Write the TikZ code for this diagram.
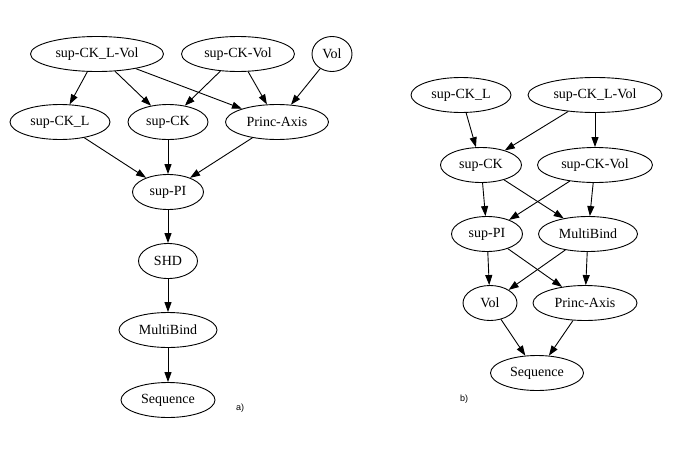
\documentclass[tikz,border=0pt]{standalone}
\usepackage{fontspec}
\setmainfont{Liberation Serif}
\newfontfamily\tagfont{Liberation Sans}
\usetikzlibrary{shapes.geometric,arrows.meta}

\begin{document}
\begin{tikzpicture}[x=1pt, y=-1pt,
    state/.style={draw, line width=0.9pt, ellipse, inner sep=0pt, minimum height=35pt,
        font=\fontsize{14}{16}\selectfont},
    edge/.style={line width=0.9pt, -{Triangle[length=10pt, width=7pt]}}]
\useasboundingbox (0,0) rectangle (685,466);

\node[state, minimum width=133pt] (aLVol) at (97, 54) {sup-CK\_L-Vol};
\node[state, minimum width=113pt] (aCKVol) at (238, 54) {sup-CK-Vol};
\node[state, minimum width=40pt] (aVol) at (332, 54) {Vol};
\node[state, minimum width=100pt] (aL) at (60, 122) {sup-CK\_L};
\node[state, minimum width=80pt] (aCK) at (168, 122) {sup-CK};
\node[state, minimum width=103pt] (aAxis) at (277, 122) {Princ-Axis};
\node[state, minimum width=71pt] (aPI) at (168, 192) {sup-PI};
\node[state, minimum width=59pt] (aSHD) at (168, 261) {SHD};
\node[state, minimum width=98pt] (aBind) at (168, 330) {MultiBind};
\node[state, minimum width=94pt] (aSeq) at (168, 400) {Sequence};
\node[font=\tagfont\fontsize{9}{10}\selectfont] (aTag) at (240, 408) {a)};

\draw[edge] (aLVol) -- (aL);
\draw[edge] (aLVol) -- (aCK);
\draw[edge] (aLVol) -- (aAxis);
\draw[edge] (aCKVol) -- (aCK);
\draw[edge] (aCKVol) -- (aAxis);
\draw[edge] (aVol) -- (aAxis);
\draw[edge] (aL) -- (aPI);
\draw[edge] (aCK) -- (aPI);
\draw[edge] (aAxis) -- (aPI);
\draw[edge] (aPI) -- (aSHD);
\draw[edge] (aSHD) -- (aBind);
\draw[edge] (aBind) -- (aSeq);

\node[state, minimum width=100pt] (bL) at (461, 95) {sup-CK\_L};
\node[state, minimum width=134pt] (bLVol) at (595, 95) {sup-CK\_L-Vol};
\node[state, minimum width=81pt] (bCK) at (481, 165) {sup-CK};
\node[state, minimum width=115pt] (bCKVol) at (595, 165) {sup-CK-Vol};
\node[state, minimum width=71pt] (bPI) at (487, 234) {sup-PI};
\node[state, minimum width=99pt] (bBind) at (588, 234) {MultiBind};
\node[state, minimum width=54pt] (bVol) at (490, 303) {Vol};
\node[state, minimum width=104pt] (bAxis) at (585, 303) {Princ-Axis};
\node[state, minimum width=93pt] (bSeq) at (537, 373) {Sequence};
\node[font=\tagfont\fontsize{9}{10}\selectfont] (bTag) at (464, 399) {b)};

\draw[edge] (bL) -- (bCK);
\draw[edge] (bLVol) -- (bCK);
\draw[edge] (bLVol) -- (bCKVol);
\draw[edge] (bCK) -- (bPI);
\draw[edge] (bCK) -- (bBind);
\draw[edge] (bCKVol) -- (bPI);
\draw[edge] (bCKVol) -- (bBind);
\draw[edge] (bPI) -- (bVol);
\draw[edge] (bPI) -- (bAxis);
\draw[edge] (bBind) -- (bVol);
\draw[edge] (bBind) -- (bAxis);
\draw[edge] (bVol) -- (bSeq);
\draw[edge] (bAxis) -- (bSeq);
\end{tikzpicture}
\end{document}
